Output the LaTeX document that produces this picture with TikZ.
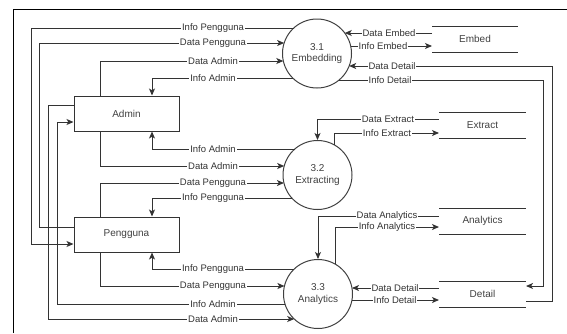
\documentclass[tikz,border=0pt]{standalone}
\usepackage{fontspec}
\setmainfont{Liberation Sans}
\usetikzlibrary{arrows.meta,calc}
\newcommand\cdx[1]{sqrt(34.5^2-(#1)^2)}
\begin{document}
\begin{tikzpicture}[x=1pt,y=-1pt,
 ln/.style={draw=black!80, line width=1pt},
 arr/.style={ln, -{Stealth[length=7pt,width=6pt,inset=1.8pt]}},
 lbl/.style={fill=white, inner sep=0.8pt, text=black!80, font=\fontsize{9.5}{10}\selectfont},
 proc/.style={circle, draw=black!75, line width=1pt, minimum size=69pt, inner sep=0pt, align=center, text=black!75, font=\fontsize{10}{11.5}\selectfont},
 ent/.style={rectangle, draw=black!80, line width=1pt, minimum width=105pt, minimum height=35pt, inner sep=0pt, text=black!75, font=\fontsize{10}{12}\selectfont},
 store/.style={rectangle, minimum width=87pt, minimum height=26pt, inner sep=0pt, outer sep=0pt, text=black!75, font=\fontsize{10}{12}\selectfont},
]
\useasboundingbox (0,0) rectangle (567,333);
\draw[black, line width=1pt] (13,333) -- (13,9) -- (567,9);

% processes
\node[proc] (emb) at (317,53.5) {3.1\\Embedding};
\node[proc] (ext) at (317.5,175) {3.2\\Extracting};
\node[proc] (ana) at (318,294) {3.3\\Analytics};

% entities
\node[ent] (adm) at (126.5,113.5) {Admin};
\node[ent] (peng) at (126.5,234.5) {Pengguna};

% data stores
\node[store, minimum width=86pt] (embs) at (475,39) {Embed};
\node[store] (exs) at (482.5,125.5) {Extract};
\node[store] (ans) at (482.5,221) {Analytics};
\node[store] (det) at (482.5,294) {Detail};
\foreach \s in {embs,exs,ans,det}{
  \draw[ln] (\s.north west) -- (\s.north east) (\s.south west) -- (\s.south east);
}

% points on circles
\coordinate (e1) at ($(emb.center)+({-\cdx{-25.5}},-25.5)$);
\coordinate (e2) at ($(emb.center)+({-\cdx{-10.5}},-10.5)$);
\coordinate (e3) at ($(emb.center)+({-\cdx{7.5}},7.5)$);
\coordinate (e4) at ($(emb.center)+({-\cdx{24.5}},24.5)$);
\coordinate (e5) at ($(emb.center)+({\cdx{-20.5}},-20.5)$);
\coordinate (e6) at ($(emb.center)+({\cdx{-7.5}},-7.5)$);
\coordinate (e7) at ($(emb.center)+({\cdx{12.5}},12.5)$);
\coordinate (e8) at ($(emb.center)+({\cdx{26.5}},26.5)$);

\coordinate (x9) at ($(ext.center)+({-\cdx{-26}},-26)$);
\coordinate (x10) at ($(ext.center)+({-\cdx{-9}},-9)$);
\coordinate (x11) at ($(ext.center)+({-\cdx{8}},8)$);
\coordinate (x12) at ($(ext.center)+({-\cdx{23}},23)$);
\coordinate (x14) at ($(ext.center)+(16.5,{-\cdx{16.5}})$);

\coordinate (a15) at ($(ana.center)+({-\cdx{-25}},-25)$);
\coordinate (a16) at ($(ana.center)+({-\cdx{-8}},-8)$);
\coordinate (a17) at ($(ana.center)+({-\cdx{10}},10)$);
\coordinate (a18) at ($(ana.center)+({-\cdx{25}},25)$);
\coordinate (a20) at ($(ana.center)+(17,{-\cdx{17}})$);
\coordinate (a21) at ($(ana.center)+({\cdx{-6}},-6)$);
\coordinate (a22) at ($(ana.center)+({\cdx{6}},6)$);

% Embedding, left
\draw[arr] (e1) -| (31,244) -- (peng.west |- 0,244);
\draw[arr] (peng.west |- 0,227) -| (39,43) -- (e2);
\draw[arr] (adm.north -| 100,0) |- (e3);
\draw[arr] (e4) -| (adm.north -| 152,0);
% Embedding, right
\draw[arr] (embs.west |- 0,33) -- (e5);
\draw[arr] (e6) -- (embs.west |- 0,46);
\draw[arr] (det.east |- 0,301) -| (552,66) -- (e7);
\draw[arr] (e8) -| (543,286) -- (det.east |- 0,286);

% Extracting
\draw[arr] (x9) -| (adm.south -| 152,0);
\draw[arr] (adm.south -| 100,0) |- (x10);
\draw[arr] (peng.north -| 100,0) |- (x11);
\draw[arr] (x12) -| (peng.north -| 152,0);
\draw[arr] (exs.west |- 0,119) -| (ext.north);
\draw[arr] (x14) |- (exs.west |- 0,133);

% Analytics
\draw[arr] (a15) -| (peng.south -| 152,0);
\draw[arr] (peng.south -| 100,0) |- (a16);
\draw[arr] (a17) -| (57,122) -- (adm.west |- 0,122);
\draw[arr] (adm.west |- 0,105) -| (48,319) -- (a18);
\draw[arr] (ans.west |- 0,216) -| (ana.north);
\draw[arr] (a20) |- (ans.west |- 0,227);
\draw[arr] (det.west |- 0,288) -- (a21);
\draw[arr] (a22) -- (det.west |- 0,300);

% labels
\node[lbl] (l1) at (213,28) {Info Pengguna};
\node[lbl] (l2) at (213,43) {Data Pengguna};
\node[lbl] (l3) at (213,61) {Data Admin};
\node[lbl] (l4) at (213,78) {Info Admin};
\node[lbl] (l5) at (389,33) {Data Embed};
\node[lbl] (l6) at (383,46) {Info Embed};
\node[lbl] (l7) at (392,66) {Data Detail};
\node[lbl] (l8) at (390,80) {Info Detail};
\node[lbl] (l9) at (213,149) {Info Admin};
\node[lbl] (l10) at (213,166) {Data Admin};
\node[lbl] (l11) at (213,183) {Data Pengguna};
\node[lbl] (l12) at (213,198) {Info Pengguna};
\node[lbl] (l13) at (388,119) {Data Extract};
\node[lbl] (l14) at (387,133) {Info Extract};
\node[lbl] (l15) at (213,269) {Info Pengguna};
\node[lbl] (l16) at (213,286) {Data Pengguna};
\node[lbl] (l17) at (213,304) {Info Admin};
\node[lbl] (l18) at (213,319) {Data Admin};
\node[lbl] (l19) at (387,216) {Data Analytics};
\node[lbl] (l20) at (387,227) {Info Analytics};
\node[lbl] (l21) at (395,288) {Data Detail};
\node[lbl] (l22) at (395,300) {Info Detail};
\end{tikzpicture}
\end{document}
